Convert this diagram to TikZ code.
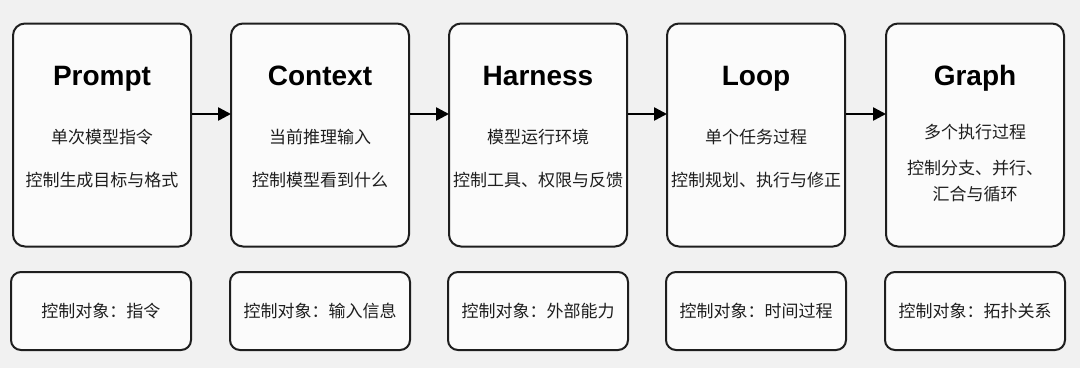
\documentclass[tikz,border=0pt]{standalone}
\usepackage{fontspec}
\setmainfont{Liberation Sans}
\newfontfamily\cjk{Noto Sans CJK SC}
\usetikzlibrary{arrows.meta}
\definecolor{bgc}{HTML}{F1F1F1}
\definecolor{boxfill}{HTML}{FBFBFB}
\definecolor{edge}{HTML}{1E1E1E}
\tikzset{
  x=1pt, y=-1pt,
  mainbox/.style={draw=edge, fill=boxfill, line width=2pt, rounded corners=12pt, minimum width=178pt, minimum height=223pt, inner sep=0pt},
  lowbox/.style={draw=edge, fill=boxfill, line width=2pt, rounded corners=10pt, minimum width=180pt, minimum height=78pt, inner sep=0pt},
  titletxt/.style={font=\bfseries\fontsize{28}{32}\selectfont, text=black, inner sep=0pt, anchor=base},
  desc/.style={font=\cjk\fontsize{17}{24}\selectfont, text=edge, align=center, inner sep=0pt, anchor=base},
  flow/.style={draw=black, line width=2.5pt, -{Triangle[length=13pt,width=13pt]}, shorten >=-1pt}
}
\begin{document}
\begin{tikzpicture}
\fill[bgc] (0,0) rectangle (1080,368);
\useasboundingbox (0,0) rectangle (1080,368);
% main boxes
\node[mainbox] (b1) at (102,135) {};
\node[mainbox] (b2) at (320,135) {};
\node[mainbox] (b3) at (538,135) {};
\node[mainbox] (b4) at (756,135) {};
\node[mainbox] (b5) at (975,135) {};
% titles
\node[titletxt] (t1) at (102,85) {Prompt};
\node[titletxt] (t2) at (320,85) {Context};
\node[titletxt] (t3) at (538,85) {Harness};
\node[titletxt] (t4) at (756,85) {Loop};
\node[titletxt] (t5) at (975,85) {Graph};
% descriptions
\node[desc] (d1a) at (102,143.5) {单次模型指令};
\node[desc] (d1b) at (102,186) {控制生成目标与格式};
\node[desc] (d2a) at (320,143.5) {当前推理输入};
\node[desc] (d2b) at (320,186) {控制模型看到什么};
\node[desc] (d3a) at (538,143.5) {模型运行环境};
\node[desc] (d3b) at (538,186) {控制工具、权限与反馈};
\node[desc] (d4a) at (756,143.5) {单个任务过程};
\node[desc] (d4b) at (756,186) {控制规划、执行与修正};
\node[desc] (d5a) at (975,138.5) {多个执行过程};
\node[desc] (d5b) at (975,174) {控制分支、并行、};
\node[desc] (d5c) at (975,200.5) {汇合与循环};
% arrows
\draw[flow] (b1.east |- 0,114) -- (b2.west |- 0,114);
\draw[flow] (b2.east |- 0,114) -- (b3.west |- 0,114);
\draw[flow] (b3.east |- 0,114) -- (b4.west |- 0,114);
\draw[flow] (b4.east |- 0,114) -- (b5.west |- 0,114);
% lower boxes
\node[lowbox] (l1) at (101,311) {};
\node[lowbox] (l2) at (320,311) {};
\node[lowbox] (l3) at (538,311) {};
\node[lowbox] (l4) at (756,311) {};
\node[lowbox] (l5) at (975,311) {};
\node[desc] (m1) at (101,317.5) {控制对象：指令};
\node[desc] (m2) at (320,317.5) {控制对象：输入信息};
\node[desc] (m3) at (538,317.5) {控制对象：外部能力};
\node[desc] (m4) at (756,317.5) {控制对象：时间过程};
\node[desc] (m5) at (975,317.5) {控制对象：拓扑关系};
\end{tikzpicture}
\end{document}
